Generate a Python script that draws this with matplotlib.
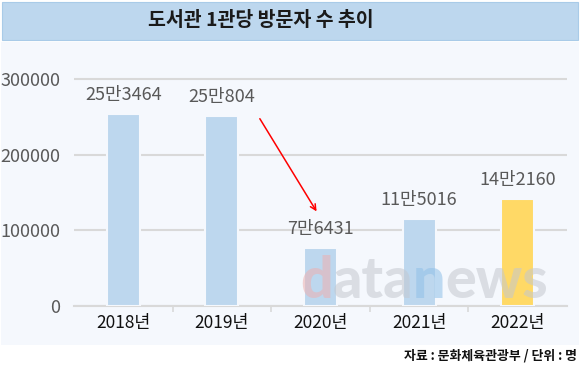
import matplotlib
matplotlib.use("Agg")
import matplotlib.pyplot as plt
from matplotlib.patches import Rectangle

plt.rcParams['font.family'] = ['Noto Sans CJK KR', 'DejaVu Sans']

title = "도서관 1관당 방문자 수 추이"
categories = ["2018년", "2019년", "2020년", "2021년", "2022년"]
values = [253464, 250804, 76431, 115016, 142160]
value_labels = ["25만3464", "25만804", "7만6431", "11만5016", "14만2160"]
yticks = [0, 100000, 200000, 300000]
source = "자료 : 문화체육관광부 / 단위 : 명"

W, H = 580, 372
fig = plt.figure(figsize=(W / 100, H / 100), dpi=100)
fig.patch.set_facecolor("white")

def fx(px):
    return px / W

def fy(py):
    return 1 - py / H

# panel background
fig.add_artist(Rectangle((fx(1), fy(345)), fx(578), (345 - 42) / H,
                         transform=fig.transFigure, facecolor="#F5F8FD",
                         edgecolor="none", zorder=-5))
# title band
fig.add_artist(Rectangle((fx(2), fy(40)), fx(576), 38 / H,
                         transform=fig.transFigure, facecolor="#BDD7EE",
                         edgecolor="#A9CBE8", linewidth=0.8, zorder=-5))
fig.text(fx(261), fy(21), title, ha="center", va="center", fontsize=14,
         fontweight="bold", color="#1a1a1a")

# axes
y0_px, y300_px = 306, 79.3
px_per = (y0_px - y300_px) / 300000
top_val = 320000
ax_top_px = y0_px - top_val * px_per
ax = fig.add_axes([fx(74), fy(y0_px), fx(567 - 74), (y0_px - ax_top_px) / H])
ax.set_facecolor("none")
x = list(range(len(categories)))
colors = ["#BDD7EE"] * 4 + ["#FFD966"]
bars = ax.bar(x, values, width=0.335, color=colors, edgecolor="#F5F8FD",
              linewidth=1.5, zorder=3)
ax.set_xlim(-0.5, 4.5)
ax.set_ylim(0, top_val)
ax.set_yticks(yticks)
ax.set_yticklabels([str(v) for v in yticks], fontsize=13, color="#595959")
ax.yaxis.grid(True, color="#D9D9D9", linewidth=1.5, zorder=0)
ax.set_axisbelow(True)
ax.set_xticks(x)
ax.set_xticklabels(categories, fontsize=12.5, color="#111111", fontweight="medium")
ax.set_xticks([0.5, 1.5, 2.5, 3.5], minor=True)
ax.tick_params(axis="x", which="major", length=0, pad=6)
ax.tick_params(axis="x", which="minor", length=4, color="#D9D9D9", width=1.2)
ax.tick_params(axis="y", length=0, pad=10)
for s in ["top", "right", "left"]:
    ax.spines[s].set_visible(False)
ax.spines["bottom"].set_color("#D9D9D9")
ax.spines["bottom"].set_linewidth(1.5)

for b, lab in zip(bars, value_labels):
    ax.annotate(lab, (b.get_x() + b.get_width() / 2, b.get_height()),
                xytext=(0, 13.7), textcoords="offset points", ha="center",
                va="center", fontsize=13, color="#595959", zorder=5)

# red arrow
ax.annotate("", xy=(1.975, 122000), xytext=(1.37, 251000),
            arrowprops=dict(arrowstyle="->", color="#FF0000", lw=1.1,
                            mutation_scale=10), zorder=6)

# watermark
wm_parts = [("d", "#EDB0B0"), ("ata", "#C4C8CF"), ("n", "#90C0E8"), ("ews", "#C4C8CF")]
fig.canvas.draw()
renderer = fig.canvas.get_renderer()
wm_size = 48
probe = fig.text(0, 0, "".join(p for p, _ in wm_parts), fontsize=wm_size,
                 fontweight="black", family="Lato")
wpx = probe.get_window_extent(renderer).width
probe.remove()
wm_size = wm_size * 248 / wpx
cur_x = fx(300)
for txt, col in wm_parts:
    t = fig.text(cur_x, fy(298), txt, fontsize=wm_size, fontweight="black",
                 color=col, alpha=0.55, ha="left", va="baseline",
                 family="Lato", zorder=10)
    bb = t.get_window_extent(renderer)
    cur_x = bb.x1 / W

fig.text(fx(577), fy(355), source, ha="right", va="center", fontsize=9.3,
         fontweight="bold", color="#111111")

fig.savefig("out.png", dpi=100, facecolor="white")
